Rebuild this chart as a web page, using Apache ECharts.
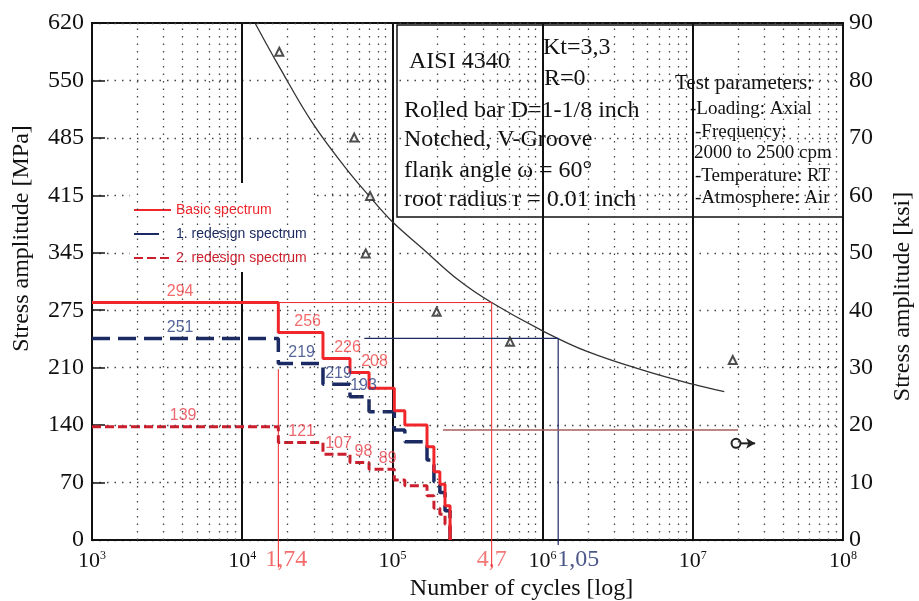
<!DOCTYPE html>
<html>
<head>
<meta charset="utf-8">
<title>AISI 4340 - S-N curve and load spectra</title>
<script src="https://cdn.jsdelivr.net/npm/echarts@6/dist/echarts.min.js"></script>
<style>
  html, body { margin: 0; padding: 0; background: #fff; }
  #chart { width: 919px; height: 601px; }
</style>
</head>
<body>
<div id="chart"></div>
<script>
const KSI = 6.895 // MPa per ksi

// left axis tick labels (MPa), one per 10 ksi
const mpaTickLabels = ['0', '70', '140', '210', '275', '345', '415', '485', '550', '620']

// step break points of the spectra (cycles)
const stepCycles = [1e3, 17400, 34500, 52200, 69900, 103000, 121000, 170000, 189000, 207000, 224000, 242000]
const basicLevels = [285, 249, 218, 201, 182, 155, 138, 112, 82, 67, 41, 0]
const redesign1Levels = [242, 212, 187, 172, 154, 132, 118, 96, 70, 57, 35, 0]
const redesign2Levels = [136, 117, 103, 93, 85, 72, 65, 53, 38, 31, 19, 0]

// numbers written above the first steps
const basicLabels = ['294', '256', '226', '208']
const redesign1Labels = ['251', '219', '219', '193']
const redesign2Labels = ['139', '121', '107', '98', '89']

// S-N curve
const curveCycles = [12220, 17780, 29510, 50120, 70790, 1e5, 158500, 275400, 457100, 1e6, 1.995e6, 5.01e6, 1e7, 1.62e7]
const curveMPa = [620, 567, 500, 444, 412, 382, 350, 312, 285, 251, 226, 202, 187, 178]

// test points (triangles)
const testCycles = [17660, 55700, 71000, 66400, 197000, 607000, 1.845e7]
const testMPa = [586, 483, 413, 344, 274, 238, 216]

// guide lines
const basicLife = 458000
const redesign1Life = 1.27e6
const lifeNotes = ['1,74', '4,7', '1,05']
const lifeNoteCycles = [17400, basicLife, redesign1Life]
const enduranceMPa = 132
const runoutCycles = [1.94e7, 2.6e7]
const runoutMPa = 116

const RED = '#f0262b'
const NAVY = '#1b2a63'
const DRED = '#cc1f2e'
const SERIF = 'Liberation Serif'
const SANS = 'Liberation Sans'

const chart = echarts.init(document.getElementById('chart'))

const steps = levels => stepCycles.map((n, i) => [n, levels[i]])

const stepNotes = (levels, labels, shifts) =>
  labels.map((t, i) => ({
    value: [Math.sqrt(stepCycles[i] * stepCycles[i + 1]), levels[i], t],
    label: { offset: [shifts[i], 0] }
  }))

// dotted minor verticals at 2..9 x 10^k
const minorLines = []
for (let e = 3; e < 8; e++) {
  for (let m = 2; m <= 9; m++) minorLines.push({ xAxis: m * Math.pow(10, e) })
}

const noteLabel = color => ({
  show: true,
  position: 'top',
  distance: 3,
  color: color,
  fontFamily: SANS,
  fontSize: 16,
  formatter: p => p.value[2]
})

// legend draws only the line, no marker
const noMarker = { opacity: 0, color: 'transparent', borderColor: 'transparent', borderWidth: 0 }

const option = {
  animation: false,
  grid: {
    left: 92, right: 76, top: 23, bottom: 61,
    outerBoundsMode: 'none',
    show: true, borderColor: '#111', borderWidth: 2
  },
  legend: {
    left: 130, top: 183, orient: 'vertical',
    backgroundColor: '#fff',
    padding: [20, 5, 7, 3],
    itemWidth: 37, itemHeight: 14, itemGap: 10,
    itemStyle: noMarker,
    textStyle: { fontFamily: SANS, fontSize: 14 },
    data: [
      { name: 'Basic spectrum', textStyle: { color: RED }, itemStyle: noMarker },
      { name: '1. redesign spectrum', textStyle: { color: NAVY }, itemStyle: noMarker, lineStyle: { type: [25, 20] } },
      { name: '2. redesign spectrum', textStyle: { color: DRED }, itemStyle: noMarker }
    ]
  },
  xAxis: {
    type: 'log', logBase: 10, min: 1e3, max: 1e8,
    name: 'Number of cycles [log]',
    nameLocation: 'middle', nameGap: 37,
    nameTextStyle: { fontFamily: SERIF, fontSize: 24, color: '#111', padding: [0, 0, 0, 108] },
    axisLine: { lineStyle: { color: '#111', width: 2 } },
    axisTick: { show: false },
    splitLine: { show: true, lineStyle: { color: '#111', width: 2 } },
    axisLabel: {
      margin: 10,
      formatter: v => '{b|10}{s|' + Math.round(Math.log10(v)) + '}',
      rich: {
        b: { fontFamily: SERIF, fontSize: 22, color: '#111' },
        s: { fontFamily: SERIF, fontSize: 12, color: '#111', verticalAlign: 'top' }
      }
    }
  },
  yAxis: [
    {
      type: 'value', min: 0, max: 90 * KSI, interval: 10 * KSI,
      name: 'Stress amplitude [MPa]',
      nameLocation: 'middle', nameGap: 58, nameRotate: 90,
      nameTextStyle: { fontFamily: SERIF, fontSize: 24, color: '#111', padding: [0, 0, 0, 86] },
      axisLine: { show: true, lineStyle: { color: '#111', width: 2 } },
      axisTick: { show: true, inside: true, length: 13, lineStyle: { color: '#111', width: 1.5 } },
      axisLabel: {
        margin: 8, fontFamily: SERIF, fontSize: 24, color: '#111',
        formatter: v => mpaTickLabels[Math.round(v / (10 * KSI))]
      },
      splitLine: { show: true, lineStyle: { color: '#444', width: 1.3, type: [1.5, 6] } }
    },
    {
      type: 'value', min: 0, max: 90, interval: 10, position: 'right',
      name: 'Stress amplitude [ksi]',
      nameLocation: 'middle', nameGap: 48, nameRotate: 90,
      nameTextStyle: { fontFamily: SERIF, fontSize: 24, color: '#111', padding: [0, 30, 0, 0] },
      axisLine: { show: true, lineStyle: { color: '#111', width: 2 } },
      axisTick: { show: false },
      axisLabel: { margin: 6, fontFamily: SERIF, fontSize: 24, color: '#111' },
      splitLine: { show: false }
    }
  ],
  series: [
    {
      name: 'minor grid', type: 'line', data: [[1e3, 0]], symbol: 'none',
      lineStyle: { opacity: 0 }, silent: true,
      markLine: {
        silent: true, symbol: 'none', label: { show: false },
        lineStyle: { color: '#444', width: 1.3, type: [1.5, 6] },
        data: minorLines
      }
    },
    {
      name: 'S-N curve', type: 'line', smooth: 0.4, symbol: 'none',
      data: curveCycles.map((n, i) => [n, curveMPa[i]]),
      lineStyle: { color: '#333', width: 1.3 }, z: 3
    },
    {
      name: 'tests', type: 'scatter', symbol: 'emptyTriangle', symbolSize: 8,
      data: testCycles.map((n, i) => [n, testMPa[i]]),
      itemStyle: { color: '#222', borderWidth: 1.3 }, z: 3
    },
    {
      name: 'basic life', type: 'line', symbol: 'none', clip: false,
      data: [[stepCycles[1], basicLevels[0]], [basicLife, basicLevels[0]], [basicLife, -33]],
      lineStyle: { color: RED, width: 1 }
    },
    {
      name: 'basic first step', type: 'line', symbol: 'none', clip: false,
      data: [[stepCycles[1], 205], [stepCycles[1], -33]],
      lineStyle: { color: RED, width: 1 }
    },
    {
      name: 'redesign life', type: 'line', symbol: 'none', clip: false,
      data: [[65000, redesign1Levels[0]], [redesign1Life, redesign1Levels[0]], [redesign1Life, -6]],
      lineStyle: { color: NAVY, width: 1.2 }
    },
    {
      name: 'endurance', type: 'line', symbol: 'none',
      data: [[217000, enduranceMPa], [2e7, enduranceMPa]],
      lineStyle: { color: '#a85c5c', width: 1.6 }
    },
    {
      name: 'runout', type: 'line', showSymbol: true,
      data: [
        { value: [runoutCycles[0], runoutMPa], symbol: 'emptyCircle', symbolSize: 9 },
        { value: [runoutCycles[1], runoutMPa], symbol: 'arrow', symbolSize: [8, 9], symbolRotate: -90 }
      ],
      itemStyle: { color: '#222', borderWidth: 1.5 },
      lineStyle: { color: '#222', width: 2 }
    },
    {
      name: 'Basic spectrum', type: 'line', step: 'end', symbol: 'none',
      data: steps(basicLevels),
      itemStyle: { color: RED },
      lineStyle: { color: RED, width: 3 }, z: 5
    },
    {
      name: '1. redesign spectrum', type: 'line', step: 'end', symbol: 'none',
      data: steps(redesign1Levels),
      itemStyle: { color: NAVY },
      lineStyle: { color: NAVY, width: 3.5, type: [18, 8] }, z: 4
    },
    {
      name: '2. redesign spectrum', type: 'line', step: 'end', symbol: 'none',
      data: steps(redesign2Levels),
      itemStyle: { color: DRED },
      lineStyle: { color: DRED, width: 3, type: [9, 4] }, z: 4
    },
    {
      name: 'basic notes', type: 'scatter', symbolSize: 0, silent: true,
      data: stepNotes(basicLevels, basicLabels, [-5, 7, 11, 15]),
      label: noteLabel('#f04545'), z: 6
    },
    {
      name: 'redesign1 notes', type: 'scatter', symbolSize: 0, silent: true,
      data: stepNotes(redesign1Levels, redesign1Labels, [-5, 1, 2, 4]),
      label: noteLabel('#2a3f80'), z: 6
    },
    {
      name: 'redesign2 notes', type: 'scatter', symbolSize: 0, silent: true,
      data: stepNotes(redesign2Levels, redesign2Labels, [-2, 1, 2, 4, 6]),
      label: noteLabel('#e8404a'), z: 6
    },
    {
      name: 'life notes', type: 'scatter', symbolSize: 0, silent: true, clip: false,
      data: lifeNoteCycles.map((n, i) => ({
        value: [n, 0, lifeNotes[i]],
        label: { offset: [[8, 0, 20][i], 0], color: ['#f04848', '#f05858', '#1f2d6b'][i] }
      })),
      label: {
        show: true, position: 'bottom', distance: 8,
        fontFamily: SERIF, fontSize: 24,
        formatter: p => p.value[2]
      }
    }
  ],
  graphic: [
    {
      type: 'group', z: 50,
      children: [
        { type: 'rect', x: 397, y: 25, shape: { width: 446, height: 192 },
          style: { fill: '#fff', stroke: '#111', lineWidth: 1.5 } },
        { type: 'text', x: 409, y: 62, style: { text: 'AISI 4340', fontFamily: SERIF, fontSize: 24, fill: '#111', verticalAlign: 'middle' } },
        { type: 'text', x: 543, y: 48, style: { text: 'Kt=3,3', fontFamily: SERIF, fontSize: 24, fill: '#111', verticalAlign: 'middle' } },
        { type: 'text', x: 544, y: 79, style: { text: 'R=0', fontFamily: SERIF, fontSize: 24, fill: '#111', verticalAlign: 'middle' } },
        { type: 'text', x: 404, y: 111, style: { text: 'Rolled bar D=1-1/8 inch', fontFamily: SERIF, fontSize: 24, fill: '#111', verticalAlign: 'middle' } },
        { type: 'text', x: 404, y: 140, style: { text: 'Notched, V-Groove', fontFamily: SERIF, fontSize: 24, fill: '#111', verticalAlign: 'middle' } },
        { type: 'text', x: 404, y: 171, style: { text: 'flank angle ω = 60°', fontFamily: SERIF, fontSize: 24, fill: '#111', verticalAlign: 'middle' } },
        { type: 'text', x: 404, y: 200, style: { text: 'root radius r = 0.01 inch', fontFamily: SERIF, fontSize: 24, fill: '#111', verticalAlign: 'middle' } },
        { type: 'text', x: 675, y: 83, style: { text: 'Test parameters:', fontFamily: SERIF, fontSize: 21, fill: '#111', verticalAlign: 'middle' } },
        { type: 'text', x: 690, y: 109, style: { text: '-Loading: Axial', fontFamily: SERIF, fontSize: 19, fill: '#111', verticalAlign: 'middle' } },
        { type: 'text', x: 695, y: 132, style: { text: '-Frequency:', fontFamily: SERIF, fontSize: 19, fill: '#111', verticalAlign: 'middle' } },
        { type: 'text', x: 694, y: 153, style: { text: '2000 to 2500 cpm', fontFamily: SERIF, fontSize: 19, fill: '#111', verticalAlign: 'middle' } },
        { type: 'text', x: 695, y: 176, style: { text: '-Temperature: RT', fontFamily: SERIF, fontSize: 19, fill: '#111', verticalAlign: 'middle' } },
        { type: 'text', x: 695, y: 198, style: { text: '-Atmosphere: Air', fontFamily: SERIF, fontSize: 19, fill: '#111', verticalAlign: 'middle' } }
      ]
    }
  ]
}

chart.setOption(option)
</script>
</body>
</html>
